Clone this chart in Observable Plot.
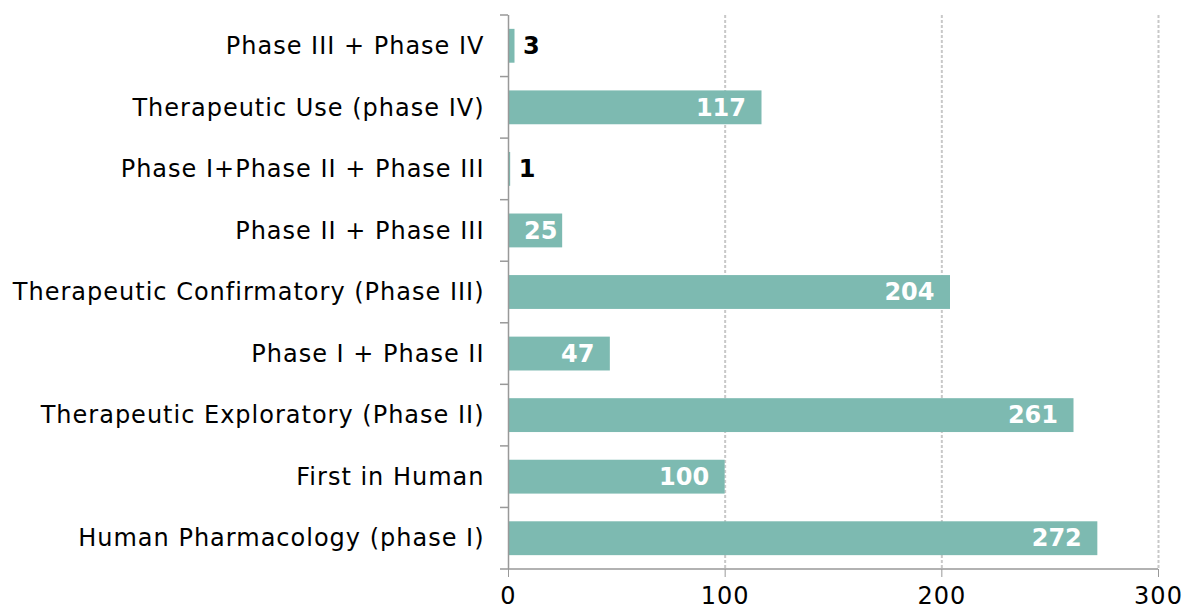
<!DOCTYPE html>
<html>
<head>
<meta charset="utf-8">
<script src="https://cdn.jsdelivr.net/npm/d3@7"></script>
<script src="https://cdn.jsdelivr.net/npm/@observablehq/plot@0.6"></script>
<style>
  html, body { margin: 0; padding: 0; background: #fff; }
  #chart svg { display: block; }
  #chart g[aria-label="y-axis tick label"] text,
  #chart g[aria-label="x-axis tick label"] text { letter-spacing: 1px; }
</style>
</head>
<body>
<div id="chart"></div>
<script>
const categories = [
  "Phase III + Phase IV",
  "Therapeutic Use (phase IV)",
  "Phase I+Phase II + Phase III",
  "Phase II + Phase III",
  "Therapeutic Confirmatory (Phase III)",
  "Phase I + Phase II",
  "Therapeutic Exploratory (Phase II)",
  "First in Human",
  "Human Pharmacology (phase I)"
];
const values = [3, 117, 1, 25, 204, 47, 261, 100, 272];
const xTicks = [0, 100, 200, 300];

const data = categories.map((c, i) => ({category: c, value: values[i]}));
const inside = data.filter(d => d.value >= 10);
const outside = data.filter(d => d.value < 10);

const font = "'DejaVu Sans', Verdana, sans-serif";

const plot = Plot.plot({
  width: 1190,
  height: 613,
  marginLeft: 508,
  marginRight: 32,
  marginTop: 15,
  marginBottom: 44,
  style: {fontFamily: font, fontSize: "24px", color: "#000", background: "#fff"},
  x: {domain: [0, 300], ticks: xTicks, label: null},
  y: {domain: categories, paddingInner: 0.45, paddingOuter: 0.225, round: false, label: null},
  marks: [
    Plot.gridX(xTicks.filter(t => t > 0), {stroke: "#c8c8c8", strokeOpacity: 1, strokeWidth: 2, strokeDasharray: "3,2"}),
    Plot.barX(data, {x: "value", y: "category", fill: "#7dbab1"}),
    Plot.ruleX([0], {stroke: "#999", strokeWidth: 1.5}),
    Plot.axisX({ticks: xTicks, tickSize: 8, tickPadding: 9, stroke: "#999", fontSize: 24, label: null}),
    Plot.axisY({tickSize: 0, tickPadding: 24, fontSize: 24, label: null}),
    Plot.text(inside, {
      x: d => Math.max(d.value, 30), y: "category", text: d => String(d.value),
      textAnchor: "end", dx: -16, fill: "#fff", fontWeight: "bold", fontSize: 24
    }),
    Plot.text(outside, {
      x: "value", y: "category", text: d => String(d.value),
      textAnchor: "start", dx: 8, fill: "#000", fontWeight: "bold", fontSize: 24
    })
  ]
});

document.getElementById("chart").appendChild(plot);

// axis lines and category-boundary ticks, placed from the plot's own scales
const ys = plot.scale("y");
const xs = plot.scale("x");
const svg = d3.select(plot);
const x0 = xs.apply(0);
const step = ys.step;
const bw = ys.bandwidth;
const g = svg.append("g").attr("stroke", "#999").attr("stroke-width", 1.5);
const bounds = categories.map(c => ys.apply(c) - (step - bw) / 2);
bounds.push(ys.apply(categories[categories.length - 1]) + bw + (step - bw) / 2);
bounds.forEach(b => {
  g.append("line").attr("x1", x0 - 8).attr("x2", x0).attr("y1", b).attr("y2", b);
});
const bottom = bounds[bounds.length - 1];
g.append("line").attr("x1", x0).attr("x2", xs.apply(300)).attr("y1", bottom).attr("y2", bottom);
</script>
</body>
</html>
